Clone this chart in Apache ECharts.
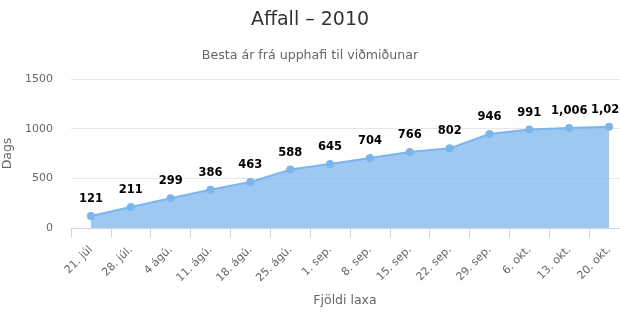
<!DOCTYPE html>
<html><head><meta charset="utf-8">
<script src="https://cdn.jsdelivr.net/npm/echarts@6/dist/echarts.min.js"></script>
<style>html,body{margin:0;padding:0;background:#fff}#c{width:620px;height:330px}</style>
</head><body><div id="c"></div>
<script>
const categories = ['21. júl','28. júl.','4 ágú.','11. ágú.','18. ágú.','25. ágú.','1. sep.','8. sep.','15. sep.','22. sep.','29. sep.','6. okt.','13. okt.','20. okt.'];
const values = [121,211,299,386,463,588,645,704,766,802,946,991,1006,1020];
const yTicks = [0,500,1000,1500];
const titleText = 'Affall – 2010';
const subtitleText = 'Besta ár frá upphafi til viðmiðunar';
const xName = 'Fjöldi laxa';
const yName = 'Dags';
const font = '"Lucida Grande","DejaVu Sans",sans-serif';
const chart = echarts.init(document.getElementById('c'), null, {renderer:'canvas'});
chart.setOption({
  animation:false,
  textStyle:{fontFamily:font},
  title:[
    {text:titleText,left:'center',top:6,textStyle:{fontSize:19,fontWeight:'normal',color:'#333',fontFamily:font}},
    {text:subtitleText,left:'center',top:44,textStyle:{fontSize:12.6,fontWeight:'normal',color:'#666',fontFamily:font}}
  ],
  grid:{left:71,right:-9,top:79,bottom:102,containLabel:false,outerBoundsMode:'none'},
  xAxis:{type:'category',data:categories,boundaryGap:true,
    name:xName,nameLocation:'middle',nameGap:66,
    nameTextStyle:{color:'#666',fontSize:12.5,fontFamily:font,padding:[0,10,0,0]},
    axisLine:{lineStyle:{color:'#ccd6eb'}},
    axisTick:{show:true,length:10,lineStyle:{color:'#ccd6eb'},alignWithLabel:false},
    axisLabel:{rotate:45,color:'#666',fontSize:11,margin:20,fontFamily:font,interval:0}
  },
  yAxis:{type:'value',min:yTicks[0],max:yTicks[yTicks.length-1],interval:500,
    name:yName,nameLocation:'middle',nameGap:55,nameRotate:90,
    nameTextStyle:{color:'#666',fontSize:12.5,fontFamily:font},
    axisLine:{show:false},axisTick:{show:false},
    axisLabel:{color:'#666',fontSize:11,margin:18,fontFamily:font,formatter:v=>String(v)},
    splitLine:{lineStyle:{color:'#e6e6e6'}}
  },
  series:[{type:'line',data:values,
    symbol:'circle',symbolSize:8,
    itemStyle:{color:'#7cb5ec'},
    lineStyle:{color:'#7cb5ec',width:2},
    areaStyle:{color:'#7cb5ec',opacity:0.75},
    label:{show:true,position:'top',distance:7,fontSize:11.5,fontWeight:'bold',color:'#000',
      textBorderColor:'#fff',textBorderWidth:1,fontFamily:font,
      formatter:p=>p.value.toLocaleString('en-US')}
  }]
});
</script></body></html>
